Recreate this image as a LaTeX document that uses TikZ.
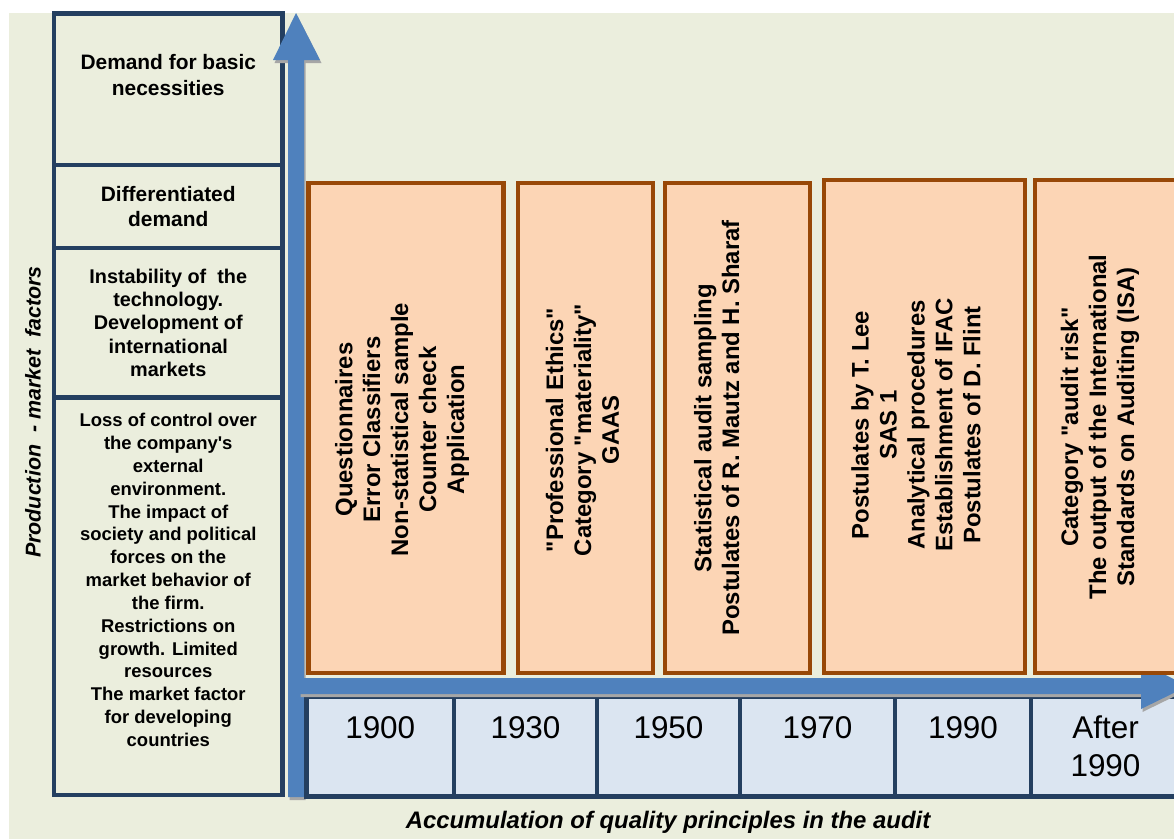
\documentclass[tikz,border=0pt]{standalone}
\usepackage{fontspec}
\setmainfont{Liberation Sans}
\usetikzlibrary{positioning}
\definecolor{bgcol}{HTML}{EBEEDD}
\definecolor{navy}{HTML}{243F60}
\definecolor{axisblue}{HTML}{4F81BD}
\definecolor{peach}{HTML}{FCD5B5}
\definecolor{rust}{HTML}{984807}
\definecolor{cellblue}{HTML}{DBE5F1}
\definecolor{shade}{HTML}{A6A6A6}

\begin{document}
\begin{tikzpicture}
    [
    x=0.02cm, y=-0.02cm,
    factor/.style={rectangle,draw=navy,line width=0.09cm,inner sep=0pt,minimum width=4.57cm,
      align=center,font=\bfseries\fontsize{11.9}{14.7}\selectfont},
    principle/.style={rectangle,draw=rust,fill=peach,line width=0.09cm,inner sep=0pt,minimum height=9.8cm},
    principletext/.style={rotate=90,align=center,inner sep=0pt,font=\bfseries\fontsize{13.6}{15.9}\selectfont},
    period/.style={rectangle,draw=navy,fill=cellblue,line width=0.09cm,inner sep=0pt,minimum height=2cm,
      align=center,font=\fontsize{17.9}{21.5}\selectfont},
    axislabel/.style={inner sep=0pt,font=\bfseries\itshape\fontsize{13.6}{16}\selectfont},
    axisarrow/.style={fill=axisblue},
    axisshadow/.style={fill=shade}
    ]
    \clip (0,0) rectangle (1174,839);
    \fill [white] (0,0) rectangle (1174,839);
    \fill [bgcol] (9,13) rectangle (1174,839);

    % market factors
    \node (basic) at (168.25,89.25) [factor,minimum height=3.03cm] {};
    \node (basictext) at (168.25,75) [align=center,inner sep=0pt,font=\bfseries\fontsize{11.9}{14.7}\selectfont]
      {Demand for basic\\necessities};
    \node (differ) at (168.25,206.5) [factor,minimum height=1.66cm] {Differentiated\\demand};
    \node (instab) at (168.25,322.75) [factor,minimum height=2.99cm,font=\bfseries\fontsize{11.3}{13.2}\selectfont]
      {Instability of \ the\\technology.\\Development of\\international\\markets};
    \node (loss) at (168.25,596.25) [factor,minimum height=7.95cm] {};
    \node (losstext) at (168.25,580) [align=center,inner sep=0pt,font=\bfseries\fontsize{10.5}{13}\selectfont]
      {Loss of control over\\the company\textquotesingle s\\external\\environment.\\The impact of\\society and political\\forces on the\\market behavior of\\the firm.\\Restrictions on\\growth. Limited\\resources\\The market factor\\for developing\\countries};

    % vertical axis
    \fill [axisshadow] (289.5,800) -- (289.5,63) -- (274.5,63) -- (297.5,16) -- (321.5,63) -- (305.5,63) -- (305.5,800) -- cycle;
    \fill [axisarrow] (288,797) -- (288,60) -- (273,60) -- (296,13) -- (320,60) -- (304,60) -- (304,797) -- cycle;

    % periods
    \node (p1900) at (380.25,746.5) [period,minimum width=2.95cm] {1900\\~};
    \node (p1930) at (525.5,746.5) [period,minimum width=2.86cm] {1930\\~};
    \node (p1950) at (668.5,746.5) [period,minimum width=2.86cm] {1950\\~};
    \node (p1970) at (817.5,746.5) [period,minimum width=3.1cm] {1970\\~};
    \node (p1990) at (963,746.5) [period,minimum width=2.72cm] {1990\\~};
    \node (pafter) at (1105.5,746.5) [period,minimum width=2.98cm] {After\\1990};

    % horizontal axis
    \fill [axisshadow] (300.5,681) -- (1142.5,681) -- (1142.5,666) -- (1189.5,689) -- (1142.5,712) -- (1142.5,697) -- (300.5,697) -- cycle;
    \fill [axisarrow] (299,678) -- (1141,678) -- (1141,663) -- (1188,686) -- (1141,709) -- (1141,694) -- (299,694) -- cycle;

    % quality principles
    \node (q1900) at (406,428) [principle,minimum width=3.9cm] {};
    \node (q1930) at (585.5,428) [principle,minimum width=2.7cm] {};
    \node (q1950) at (737.5,428) [principle,minimum width=2.9cm] {};
    \node (q1970) at (924.5,426.5) [principle,minimum width=4.02cm,minimum height=9.86cm] {};
    \node (q1990) at (1115,426.5) [principle,minimum width=3.2cm,minimum height=9.86cm] {};
    \node (t1900) at (402,429.5) [principletext]
      {Questionnaires\\Error Classifiers\\Non-statistical sample\\Counter check\\Application};
    \node (t1930) at (582.5,430) [principletext]
      {\textquotedbl Professional Ethics\textquotedbl\\Category \textquotedbl materiality\textquotedbl\\GAAS};
    \node (t1950) at (716.7,428) [principletext]
      {Statistical audit sampling\\Postulates of R. Mautz and H. Sharaf};
    \node (t1970) at (916,425) [principletext]
      {Postulates by T. Lee\\SAS 1\\Analytical procedures\\Establishment of IFAC\\Postulates of D. Flint};
    \node (t1990) at (1100,427) [principletext]
      {Category \textquotedbl audit risk\textquotedbl\\The output of the International\\Standards on Auditing (ISA)};

    % axis titles
    \node (ytitle) at (33,412) [axislabel,rotate=90,font=\bfseries\itshape\fontsize{12.2}{14}\selectfont]
      {Production \ - market \ factors};
    \node (xtitle) at (668,822) [axislabel] {Accumulation of quality principles in the audit};
  \end{tikzpicture}
\end{document}
